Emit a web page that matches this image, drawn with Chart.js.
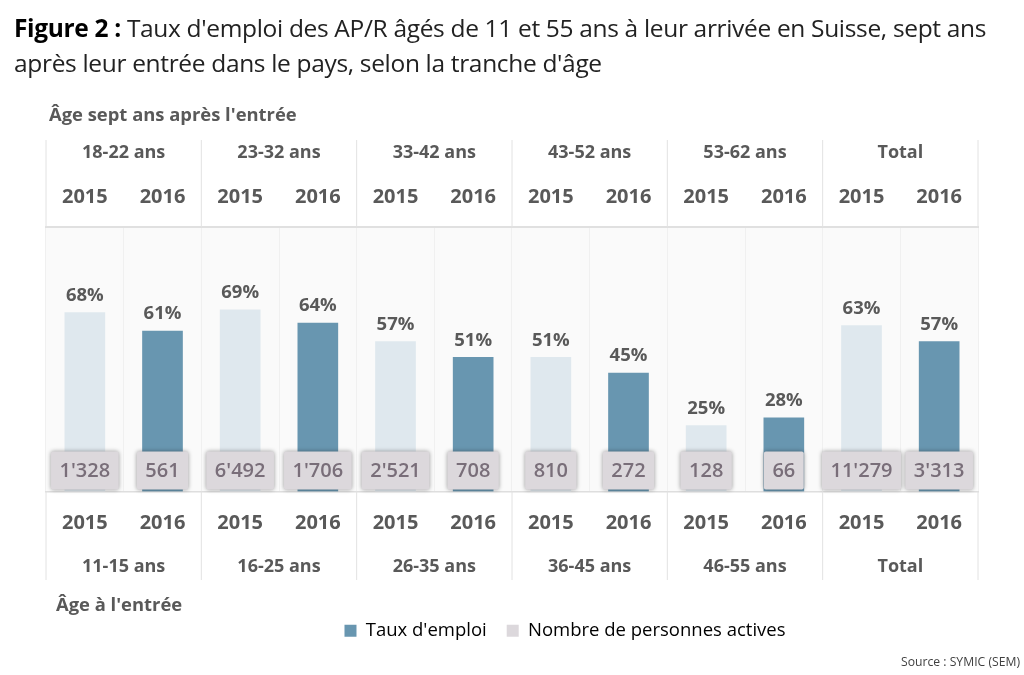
<!DOCTYPE html>
<html lang="fr">
<head>
<meta charset="utf-8">
<title>Figure 2</title>
<script src="https://cdn.jsdelivr.net/npm/chart.js@4/dist/chart.umd.min.js"></script>
<style>
  body { margin: 0; background: #fff; font-family: "Open Sans", sans-serif; }
  #wrap { position: relative; width: 1024px; height: 675px; overflow: hidden; }
  #title { position: absolute; left: 14px; top: 10px; width: 1005px; font-size: 24.5px; line-height: 35px; letter-spacing: -0.33px; color: #222; }
  #title b { color: #000; }
  .note { position: absolute; font-weight: 700; font-size: 18.4px; color: #595959; white-space: nowrap; }
  #source { position: absolute; right: 4px; top: 653px; font-size: 12.2px; color: #404040; }
  canvas { position: absolute; left: 0; top: 0; }
</style>
</head>
<body>
<div id="wrap">
  <canvas id="chart" width="1024" height="675"></canvas>
  <div id="title"><b>Figure 2 :</b> Taux d'emploi des AP/R âgés de 11 et 55 ans à leur arrivée en Suisse, sept ans<br>après leur entrée dans le pays, selon la tranche d'âge</div>
  <div class="note" style="left:49px;top:101px">Âge sept ans après l'entrée</div>
  <div class="note" style="left:56px;top:591px">Âge à l'entrée</div>
  <div id="source">Source : SYMIC (SEM)</div>
</div>
<script>
const years = ['2015', '2016', '2015', '2016', '2015', '2016', '2015', '2016', '2015', '2016', '2015', '2016'];
const groupsAfter = ['18-22 ans', '23-32 ans', '33-42 ans', '43-52 ans', '53-62 ans', 'Total'];
const groupsEntry = ['11-15 ans', '16-25 ans', '26-35 ans', '36-45 ans', '46-55 ans', 'Total'];
const employmentRate = [68, 61, 69, 64, 57, 51, 51, 45, 25, 28, 63, 57];
const activePersons = [1328, 561, 6492, 1706, 2521, 708, 810, 272, 128, 66, 11279, 3313];

const DARK = '#6896b0';
const LIGHT = '#dfe8ee';
const BADGE = '#dcd8dc';
const GREY = '#595959';
const FONT = '"Open Sans", sans-serif';

const formatCount = (n) => String(n).replace(/\B(?=(\d{3})+$)/g, "'");

// Badges, pourcentages et colonnes des groupes
const annotations = {
  id: 'annotations',
  afterLayout(chart) {
    // la légende est décalée à droite comme dans l'original
    chart.legend.left += 53;
    chart.legend.right += 53;
  },
  beforeDraw(chart) {
    const {ctx, chartArea: a} = chart;
    ctx.save();
    ctx.fillStyle = '#fafafa';
    ctx.fillRect(a.left, a.top, a.right - a.left, a.bottom - a.top);
    ctx.restore();
  },
  afterDatasetsDraw(chart) {
    const {ctx, chartArea: a, scales} = chart;
    const bars = chart.getDatasetMeta(0).data;
    ctx.save();
    ctx.textAlign = 'center';
    ctx.textBaseline = 'middle';

    bars.forEach((bar, i) => {
      ctx.font = `700 18.5px ${FONT}`;
      ctx.fillStyle = GREY;
      ctx.fillText(employmentRate[i] + '%', bar.x, bar.y - 17);

      const label = formatCount(activePersons[i]);
      ctx.font = `600 20px ${FONT}`;
      const w = ctx.measureText(label).width + 17;
      ctx.save();
      ctx.shadowColor = 'rgba(0,0,0,0.4)';
      ctx.shadowBlur = 4;
      ctx.fillStyle = BADGE;
      ctx.beginPath();
      ctx.roundRect(bar.x - w / 2, a.bottom - 40, w, 38, 2);
      ctx.fill();
      ctx.restore();
      ctx.fillStyle = '#796e79';
      ctx.fillText(label, bar.x, a.bottom - 20);
    });

    // séparateurs et titres de groupes, au-dessus et au-dessous du graphique
    const x = scales.x;
    const step = x.getPixelForValue(1) - x.getPixelForValue(0);
    ctx.strokeStyle = '#e2e2e2';
    ctx.lineWidth = 1;
    for (let g = 0; g <= groupsAfter.length; g++) {
      const px = x.getPixelForValue(g * 2) - step / 2;
      ctx.beginPath();
      ctx.moveTo(px, 140);
      ctx.lineTo(px, a.top);
      ctx.moveTo(px, a.bottom);
      ctx.lineTo(px, 580);
      ctx.stroke();
    }
    ctx.font = `700 18px ${FONT}`;
    ctx.fillStyle = GREY;
    groupsAfter.forEach((name, g) => {
      const px = x.getPixelForValue(g * 2) + step / 2;
      ctx.fillText(name, px, 153);
      ctx.fillText(groupsEntry[g], px, 567);
    });
    ctx.restore();
  },
};

new Chart(document.getElementById('chart'), {
  type: 'bar',
  data: {
    labels: years,
    datasets: [
      {
        label: "Taux d'emploi",
        data: employmentRate,
        backgroundColor: years.map((y) => (y === '2015' ? LIGHT : DARK)),
        barThickness: 40,
        grouped: false,
      },
      {
        label: 'Nombre de personnes actives',
        data: [],
        backgroundColor: BADGE,
        grouped: false,
      },
    ],
  },
  options: {
    responsive: false,
    animation: false,
    layout: {padding: {left: 46, right: 46, top: 140, bottom: 25}},
    plugins: {
      tooltip: {enabled: false},
      legend: {
        position: 'bottom',
        labels: {
          boxWidth: 12,
          boxHeight: 12,
          padding: 20,
          color: '#404040',
          font: {family: FONT, size: 18.5},
          generateLabels: () => [
            {text: "Taux d'emploi", fillStyle: DARK, strokeStyle: DARK, lineWidth: 0},
            {text: 'Nombre de personnes actives', fillStyle: BADGE, strokeStyle: BADGE, lineWidth: 0},
          ],
        },
      },
    },
    scales: {
      x: {
        position: 'bottom',
        offset: true,
        grid: {color: '#f0f0f0', drawTicks: false, offset: true},
        border: {color: '#dedede', width: 1.5},
        ticks: {
          color: GREY,
          font: {family: FONT, size: 20, weight: '700'},
          padding: 20,
          autoSkip: false,
          maxRotation: 0,
        },
        afterFit(scale) {
          scale.height = 110;
        },
      },
      x2: {
        type: 'category',
        labels: years,
        position: 'top',
        offset: true,
        grid: {display: false, drawTicks: false},
        border: {color: '#e0e0e0', width: 2},
        ticks: {
          color: GREY,
          font: {family: FONT, size: 20, weight: '700'},
          padding: 18,
          autoSkip: false,
          maxRotation: 0,
        },
        afterFit(scale) {
          scale.height = 87;
        },
      },
      y: {display: false, min: 0, max: 100.5},
    },
  },
  plugins: [annotations],
});
</script>
</body>
</html>
